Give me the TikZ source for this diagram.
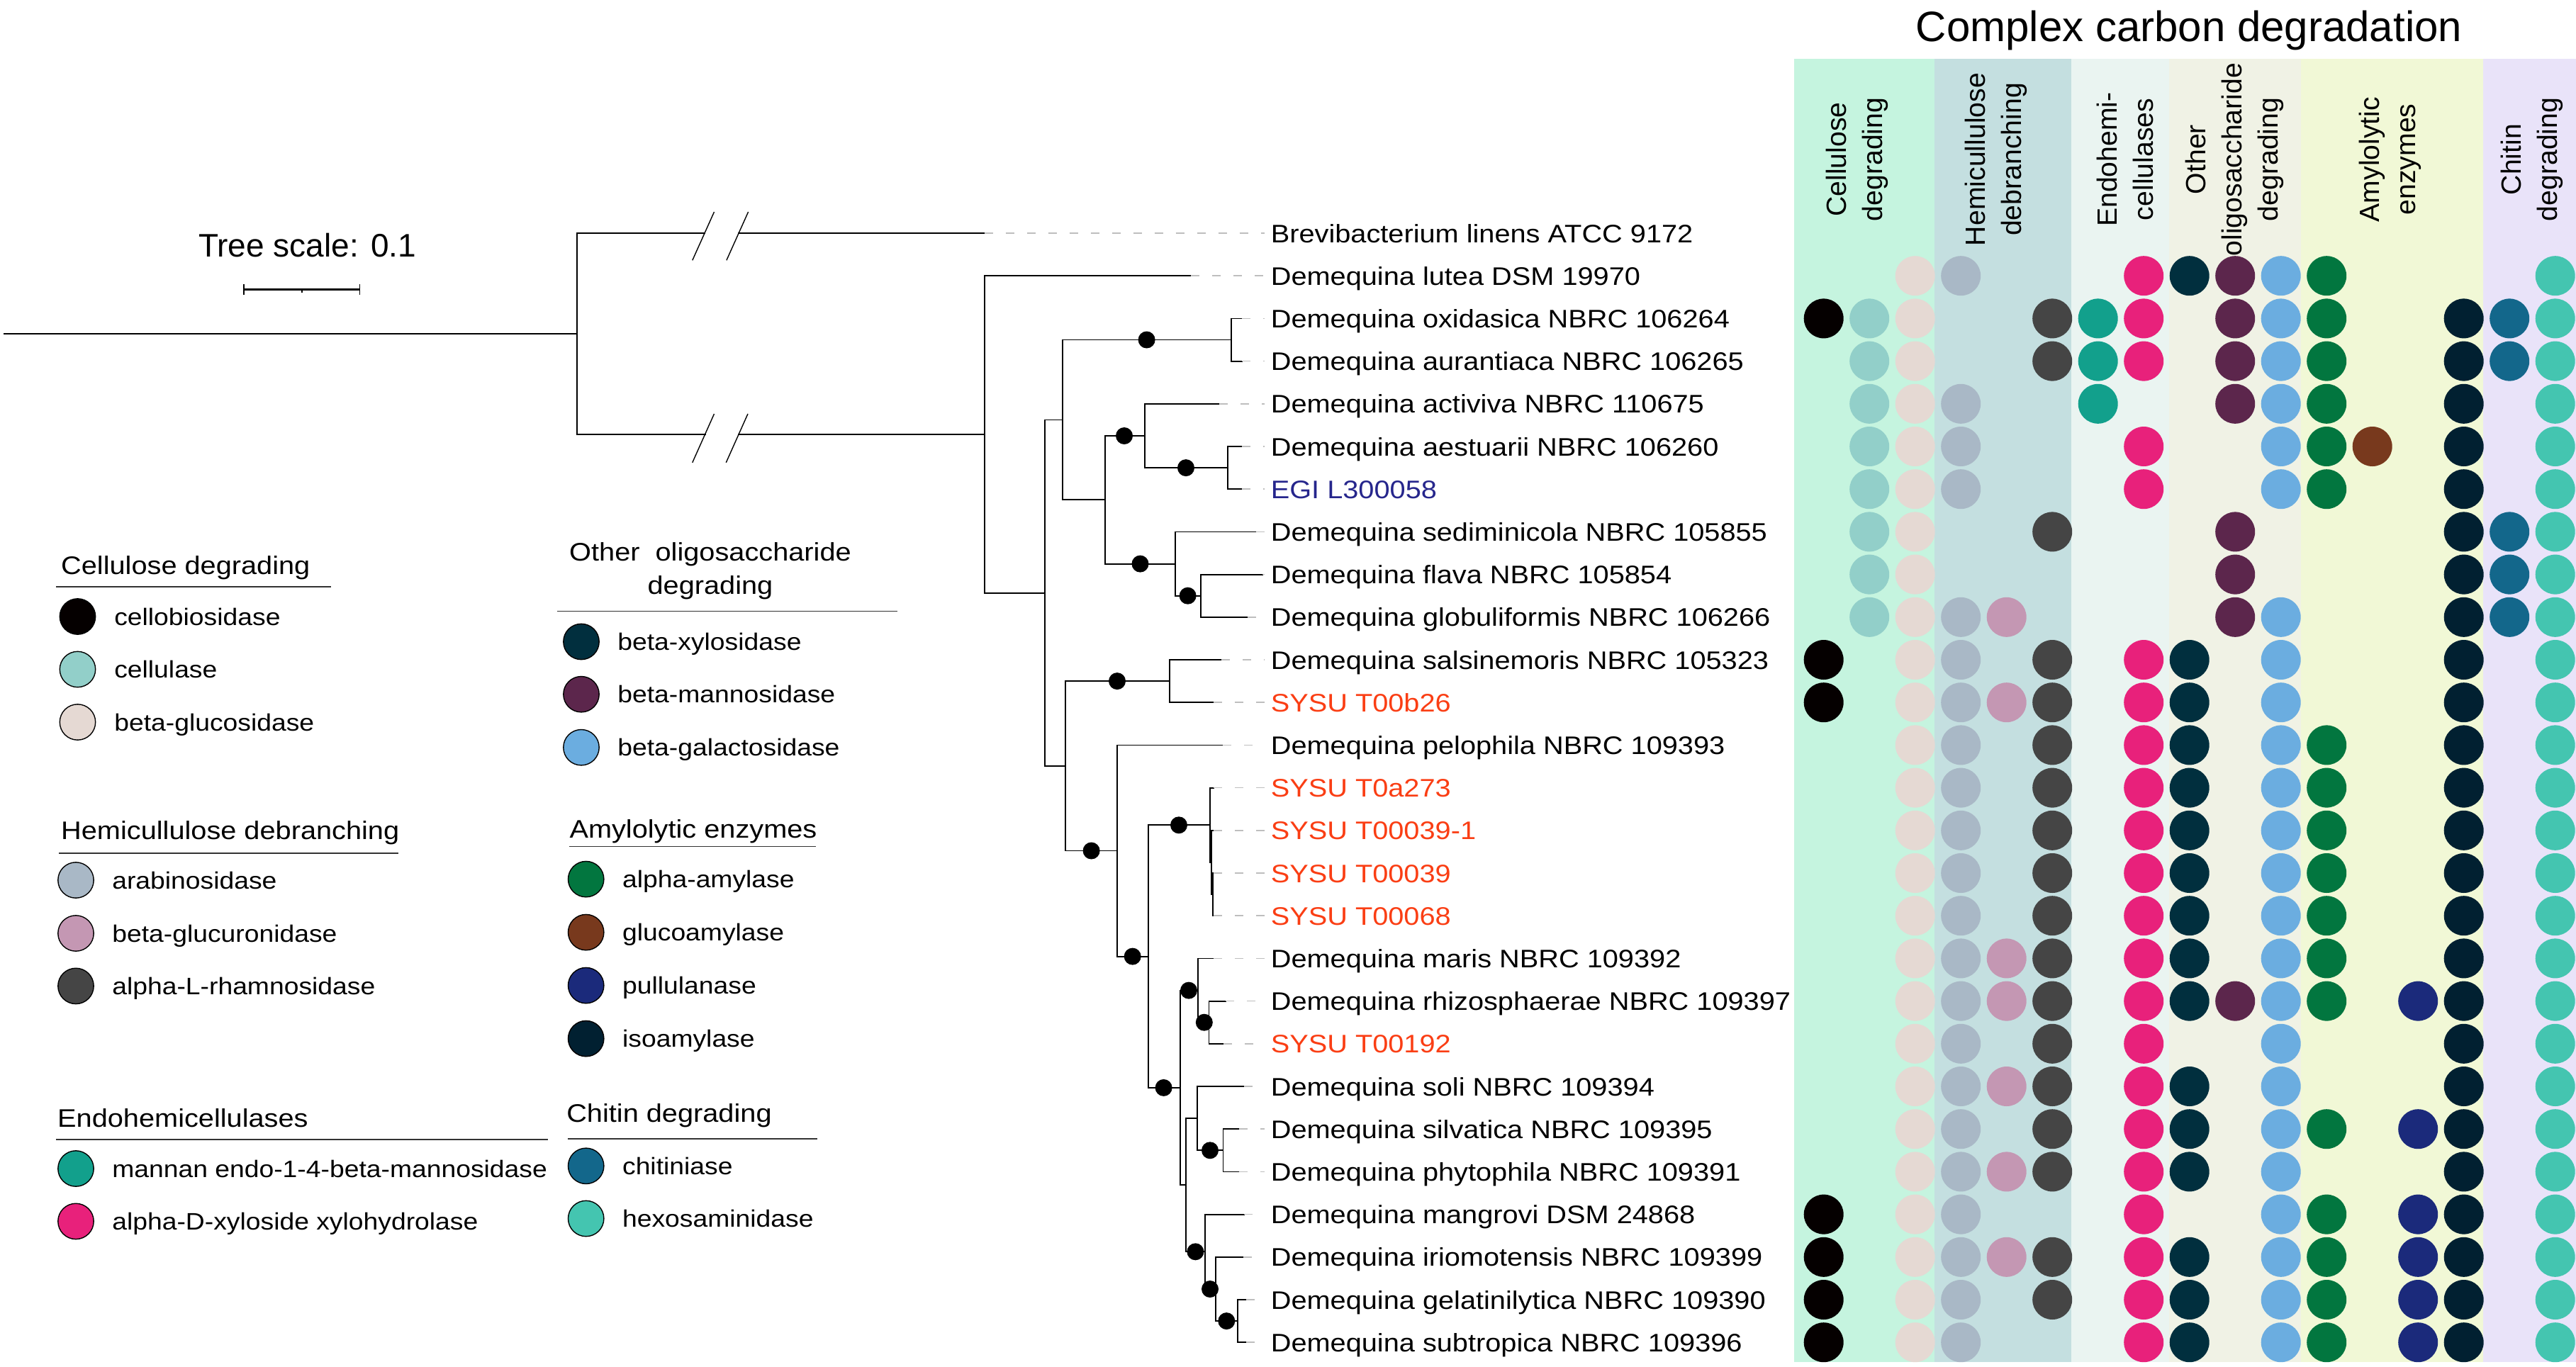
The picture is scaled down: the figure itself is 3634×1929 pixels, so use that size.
\documentclass[tikz,border=0pt]{standalone}
\usepackage{fontspec}
\setmainfont{Liberation Sans}
\newfontfamily\widefont[FakeStretch=1.11]{Liberation Sans}
\definecolor{bandA}{RGB}{197,244,223}
\definecolor{bandB}{RGB}{196,223,224}
\definecolor{bandC}{RGB}{234,244,241}
\definecolor{bandD}{RGB}{240,242,229}
\definecolor{bandE}{RGB}{241,248,214}
\definecolor{bandF}{RGB}{233,227,249}
\definecolor{col0}{RGB}{5,0,0}
\definecolor{col1}{RGB}{146,207,201}
\definecolor{col2}{RGB}{229,217,211}
\definecolor{col3}{RGB}{169,184,198}
\definecolor{col4}{RGB}{196,151,179}
\definecolor{col5}{RGB}{69,69,69}
\definecolor{col6}{RGB}{18,160,140}
\definecolor{col7}{RGB}{232,33,123}
\definecolor{col8}{RGB}{1,47,62}
\definecolor{col9}{RGB}{92,38,76}
\definecolor{col10}{RGB}{107,173,224}
\definecolor{col11}{RGB}{2,118,63}
\definecolor{col12}{RGB}{120,57,29}
\definecolor{col13}{RGB}{27,42,123}
\definecolor{col14}{RGB}{1,32,49}
\definecolor{col15}{RGB}{19,103,139}
\definecolor{col16}{RGB}{68,197,176}
\definecolor{sysured}{RGB}{250,62,20}
\definecolor{egiblue}{RGB}{38,38,140}
\definecolor{leadgray}{RGB}{190,190,190}
\begin{document}
\begin{tikzpicture}[x=0.25pt,y=-0.25pt,
  tree/.style={line width=0.45pt, line cap=rect},
  slash/.style={line width=0.35pt},
  leader/.style={draw=leadgray, line width=0.4pt, dash pattern=on 3pt off 4.5pt, shorten >=2pt},
  lab/.style={anchor=base west, inner sep=0pt, font=\widefont\fontsize{8.95pt}{11pt}\selectfont},
  hdr/.style={rotate=90, align=center, inner sep=0pt, font=\fontsize{9.8pt}{12.75pt}\selectfont},
  legh/.style={anchor=base west, inner sep=0pt, font=\widefont\fontsize{8.95pt}{11pt}\selectfont},
  leghc/.style={anchor=base, inner sep=0pt, font=\widefont\fontsize{8.95pt}{11pt}\selectfont},
  legi/.style={anchor=base west, inner sep=0pt, font=\widefont\fontsize{8.4pt}{10pt}\selectfont},
  legdot/.style={circle, draw=black, line width=0.35pt, minimum size=12.6pt, inner sep=0pt},
  uline/.style={draw=black!80, line width=0.35pt}]
\useasboundingbox (0,0) rectangle (3634,1929);

% ---------- bands ----------
\fill[bandA] (2531,83) rectangle (2729,1922);
\fill[bandB] (2729,83) rectangle (2922,1922);
\fill[bandC] (2922,83) rectangle (3060,1922);
\fill[bandD] (3060,83) rectangle (3246,1922);
\fill[bandE] (3246,83) rectangle (3503,1922);
\fill[bandF] (3503,83) rectangle (3634,1922);

% ---------- matrix dots ----------
\foreach \r/\cl in {
1/{2,3,7,8,9,10,11,16},
2/{0,1,2,5,6,7,9,10,11,14,15,16},
3/{1,2,5,6,7,9,10,11,14,15,16},
4/{1,2,3,6,9,10,11,14,16},
5/{1,2,3,7,10,11,12,14,16},
6/{1,2,3,7,10,11,14,16},
7/{1,2,5,9,14,15,16},
8/{1,2,9,14,15,16},
9/{1,2,3,4,9,10,14,15,16},
10/{0,2,3,5,7,8,10,14,16},
11/{0,2,3,4,5,7,8,10,14,16},
12/{2,3,5,7,8,10,11,14,16},
13/{2,3,5,7,8,10,11,14,16},
14/{2,3,5,7,8,10,11,14,16},
15/{2,3,5,7,8,10,11,14,16},
16/{2,3,5,7,8,10,11,14,16},
17/{2,3,4,5,7,8,10,11,14,16},
18/{2,3,4,5,7,8,9,10,11,13,14,16},
19/{2,3,5,7,10,14,16},
20/{2,3,4,5,7,8,10,14,16},
21/{2,3,5,7,8,10,11,13,14,16},
22/{2,3,4,5,7,8,10,14,16},
23/{0,2,3,7,10,11,13,14,16},
24/{0,2,3,4,5,7,8,10,11,13,14,16},
25/{0,2,3,5,7,8,10,11,13,14,16},
26/{0,2,3,7,8,10,11,13,14,16}}
{\foreach \c in \cl {\fill[fill=col\c] ({2572.7+64.5*\c},{329+60.2*\r}) circle[radius=7pt];}}

% ---------- title and column headers ----------
\node[anchor=base, inner sep=0pt, font=\fontsize{15pt}{18pt}\selectfont] (title) at (3088,58) {Complex carbon degradation};
\node[hdr] (h1) at (2620,225) {Cellulose\\degrading};
\node[hdr] (h2) at (2816,225) {Hemicullulose\\debranching};
\node[hdr] (h3) at (2997.5,225) {Endohemi-\\cellulases};
\node[hdr] (h4) at (3152,225) {Other\\oligosaccharide\\degrading};
\node[hdr] (h5) at (3372,225) {Amylolytic\\enzymes};
\node[hdr] (h6) at (3572,225) {Chitin\\degrading};

% ---------- tree scale ----------
\node[anchor=base, inner sep=0pt, font=\fontsize{11.5pt}{13pt}\selectfont] (tscale) at (433.6,362) {Tree scale: 0.1};
\coordinate (sb1) at (344,408.3);
\coordinate (sb2) at (507.5,408.3);
\draw[line width=0.7pt] (sb1) -- (sb2);
\draw[line width=0.4pt] (344,401) -- (344,415.7) (507.5,401) -- (507.5,415.7) (425.75,408.3) -- (425.75,413);

% ---------- tree coordinates ----------
\foreach \i/\x in {0/1388.7,1/1680,2/1752,3/1752,4/1720,5/1752,6/1752,7/1772,8/1781,9/1760,
  10/1723,11/1712,12/1725,13/1712,14/1712,15/1712,16/1712,17/1712,18/1729,19/1726,
  20/1755,21/1748,22/1748,23/1755,24/1754,25/1758,26/1758}
  {\coordinate (l\i) at (\x,{329+60.2*\i});}
\coordinate (R) at (814,471.0);
\coordinate (Dm) at (1388.7,612.9);
\coordinate (A1) at (1474,836.6);
\coordinate (B1) at (1499,592.4);
\coordinate (C1) at (1737,479.5);
\coordinate (C2) at (1558.7,705.3);
\coordinate (D1) at (1615,615.0);
\coordinate (E1) at (1732,660.1);
\coordinate (D2) at (1658,795.6);
\coordinate (E2) at (1694,840.7);
\coordinate (B2) at (1503,1080.8);
\coordinate (C3) at (1650,961.1);
\coordinate (C4) at (1576,1200.5);
\coordinate (D3) at (1620,1349.6);
\coordinate (E3) at (1707,1164.3);
\coordinate (F3) at (1709,1217.0);
\coordinate (G3) at (1711,1262.1);
\coordinate (E4) at (1664.8,1534.9);
\coordinate (F4) at (1689.7,1397.6);
\coordinate (G4) at (1705.5,1442.7);
\coordinate (F5) at (1673,1672.2);
\coordinate (G5) at (1689,1578.2);
\coordinate (H5) at (1725.4,1623.3);
\coordinate (G6) at (1699.7,1766.3);
\coordinate (H6) at (1714.6,1819.0);
\coordinate (I6) at (1746,1864.1);

% root and broken branches
\coordinate (r0) at (6,471.0);
\coordinate (bu1) at (994,329.0);
\coordinate (bu2) at (1042,329.0);
\coordinate (bl1) at (994.6,612.9);
\coordinate (bl2) at (1042,612.9);
\draw[tree] (r0) -- (R);
\draw[tree] (bu1) -| (R) |- (bl1);
\draw[tree] (bu2) -- (l0);
\draw[tree] (bl2) -- (Dm);
\draw[slash] (1007.5,299) -- (976.8,367.3);
\draw[slash] (1055.6,299) -- (1024.9,367.3);
\draw[slash] (1007.5,584) -- (976.8,652.7);
\draw[slash] (1055.0,584) -- (1024.3,652.7);

% clades
\foreach \n/\a/\b in {Dm/l1/A1, A1/B1/B2, B1/C1/C2, C1/l2/l3, C2/D1/D2, D1/l4/E1, E1/l5/l6,
  D2/l7/E2, E2/l8/l9, B2/C3/C4, C3/l10/l11, C4/l12/D3, D3/E3/E4, E3/l13/F3, F3/l14/G3,
  G3/l15/l16, E4/F4/F5, F4/l17/G4, G4/l18/l19, F5/G5/G6, G5/l20/H5, H5/l21/l22,
  G6/l23/H6, H6/l24/I6, I6/l25/l26}
  {\draw[tree] (\a) -| (\n) |- (\b);}

% bootstrap dots
\foreach \x/\y in {1617.6/479.5, 1586/615.0, 1673/660.1, 1608.5/795.6, 1675.6/840.7,
  1576/961.1, 1539.6/1200.5, 1597.7/1349.6, 1663/1164.3, 1641.6/1534.9, 1677/1397.6,
  1698.8/1442.7, 1707/1623.3, 1686.4/1766.3, 1707/1819.0, 1730.3/1864.1}
  {\fill (\x,\y) circle[radius=3pt];}

% ---------- leaf labels ----------
\foreach \i/\t/\clr in {
0/{Brevibacterium linens ATCC 9172}/black,
1/{Demequina lutea DSM 19970}/black,
2/{Demequina oxidasica NBRC 106264}/black,
3/{Demequina aurantiaca NBRC 106265}/black,
4/{Demequina activiva NBRC 110675}/black,
5/{Demequina aestuarii NBRC 106260}/black,
6/{EGI L300058}/egiblue,
7/{Demequina sediminicola NBRC 105855}/black,
8/{Demequina flava NBRC 105854}/black,
9/{Demequina globuliformis NBRC 106266}/black,
10/{Demequina salsinemoris NBRC 105323}/black,
11/{SYSU T00b26}/sysured,
12/{Demequina pelophila NBRC 109393}/black,
13/{SYSU T0a273}/sysured,
14/{SYSU T00039-1}/sysured,
15/{SYSU T00039}/sysured,
16/{SYSU T00068}/sysured,
17/{Demequina maris NBRC 109392}/black,
18/{Demequina rhizosphaerae NBRC 109397}/black,
19/{SYSU T00192}/sysured,
20/{Demequina soli NBRC 109394}/black,
21/{Demequina silvatica NBRC 109395}/black,
22/{Demequina phytophila NBRC 109391}/black,
23/{Demequina mangrovi DSM 24868}/black,
24/{Demequina iriomotensis NBRC 109399}/black,
25/{Demequina gelatinilytica NBRC 109390}/black,
26/{Demequina subtropica NBRC 109396}/black}
{\node[lab, text=\clr] (t\i) at (1792,{342+60.2*\i}) {\t};
 \draw[leader] (l\i) -- (t\i.west |- l\i);}

% ---------- legend ----------
\node[legh] (lh1) at (85.4,810) {Cellulose degrading};
\draw[uline] (78.8,828) -- (466.8,828);
\node[legh] (lh2) at (85.4,1184) {Hemicullulose debranching};
\draw[uline] (83,1204) -- (562,1204);
\node[legh] (lh3) at (80.4,1590.6) {Endohemicellulases};
\draw[uline] (78.8,1607.8) -- (772.8,1607.8);
\node[leghc] (lh4a) at (1002,791.4) {Other\ \ oligosaccharide};
\node[leghc] (lh4b) at (1002,838) {degrading};
\draw[uline] (786,862.5) -- (1266,862.5);
\node[legh] (lh5) at (802.7,1182) {Amylolytic enzymes};
\draw[uline] (802.7,1194.5) -- (1151,1194.5);
\node[legh] (lh6) at (798.5,1583) {Chitin degrading};
\draw[uline] (801,1607) -- (1152.6,1607);

\foreach \k/\x/\y/\tx/\t in {
0/109.5/870/160.5/{cellobiosidase},
1/109.5/944.5/160.5/{cellulase},
2/109.5/1019/160.5/{beta-glucosidase},
3/107/1242/157.5/{arabinosidase},
4/107/1317/157.5/{beta-glucuronidase},
5/107/1391.4/157.5/{alpha-L-rhamnosidase},
6/107/1649/157.5/{mannan endo-1-4-beta-mannosidase},
7/107/1723.4/157.5/{alpha-D-xyloside xylohydrolase},
8/820/905.5/870.6/{beta-xylosidase},
9/820/979.7/870.6/{beta-mannosidase},
10/820/1054.7/870.6/{beta-galactosidase},
11/826.7/1240.6/877.3/{alpha-amylase},
12/826.7/1315.6/877.3/{glucoamylase},
13/826.7/1390.6/877.3/{pullulanase},
14/826.7/1465.6/877.3/{isoamylase},
15/826.7/1645.3/877.3/{chitiniase},
16/826.7/1719.5/877.3/{hexosaminidase}}
{\node[legdot, fill=col\k] (g\k) at (\x,\y) {};
 \node[legi] (gt\k) at (\tx,{\y+12}) {\t};}
\end{tikzpicture}
\end{document}
